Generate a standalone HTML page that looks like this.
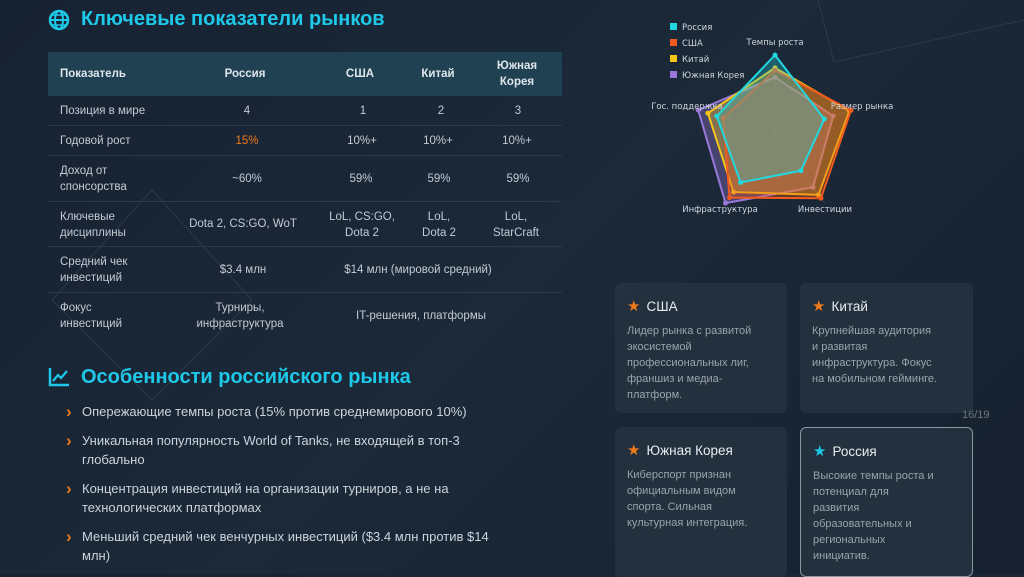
<!DOCTYPE html>
<html><head><meta charset="utf-8">
<style>
*{margin:0;padding:0;box-sizing:border-box}
body{width:1024px;height:574px;overflow:hidden;background:linear-gradient(135deg,#172232 0%,#1b2939 50%,#172130 100%);font-family:"Liberation Sans",sans-serif;color:#c8d0d8;position:relative}
.abs{position:absolute}
h2{position:absolute;color:#1ec8e8;font-size:20px;font-weight:bold}
.c{position:absolute;text-align:center;transform:translateX(-50%);font-size:11.5px;line-height:16px;color:#c3cad2;white-space:nowrap}
.l{position:absolute;font-size:11.5px;line-height:16px;color:#c3cad2;left:60px}
.row{position:absolute;left:48px;width:514px;border-bottom:1px solid #2c3b4b}
.bul{position:absolute;left:68px;font-size:13px;line-height:19px;color:#ccd3da;width:430px}
.bul:before{content:"›";position:absolute;left:-2px;color:#f07a1a;font-weight:bold;font-size:17px}
.bul span{display:block;padding-left:14px}
.card{position:absolute;background:rgba(38,50,64,0.85);border-radius:6px}
.card h3{position:absolute;left:12px;top:14px;font-size:13.5px;font-weight:normal;color:#e8ecf0}
.card h3 b{font-weight:normal;color:#f07a1a;margin-right:6px;font-size:15px}
.card p{position:absolute;left:12px;top:40px;font-size:11px;line-height:16px;color:#9aa4ae}
</style></head><body>
<svg class="abs" style="left:0;top:0" width="1024" height="574">
<polygon points="152,190 252,300 152,400 52,300" fill="none" stroke="#2a3a4a" stroke-width="1"/>
<polyline points="818,0 834,62 1024,20" fill="none" stroke="#2c3a4a" stroke-width="1"/>
</svg>
<svg class="abs" style="left:48px;top:9px" width="22" height="22" viewBox="0 0 22 22">
<circle cx="11" cy="11" r="9" fill="none" stroke="#1ec8e8" stroke-width="2.5"/><ellipse cx="11" cy="11" rx="4" ry="9" fill="none" stroke="#1ec8e8" stroke-width="2"/><line x1="2" y1="11" x2="20" y2="11" stroke="#1ec8e8" stroke-width="2"/><line x1="4" y1="6" x2="18" y2="6" stroke="#1ec8e8" stroke-width="1.5"/><line x1="4" y1="16" x2="18" y2="16" stroke="#1ec8e8" stroke-width="1.5"/></svg>
<h2 style="left:81px;top:8px">Ключевые показатели рынков</h2>
<div class="abs" style="left:48px;top:52px;width:514px;height:44px;background:#1f4152"></div>
<div class="l" style="top:66px;font-weight:bold;color:#dfe6ec">Показатель</div>
<div class="c" style="left:245px;top:66px;font-weight:bold;color:#dfe6ec">Россия</div>
<div class="c" style="left:360px;top:66px;font-weight:bold;color:#dfe6ec">США</div>
<div class="c" style="left:438px;top:66px;font-weight:bold;color:#dfe6ec">Китай</div>
<div class="c" style="left:517px;top:58px;font-weight:bold;color:#dfe6ec">Южная<br>Корея</div>

<div class="row" style="top:96px;height:30px"></div>
<div class="l" style="top:103px">Позиция в мире</div><div class="c" style="left:247px;top:103px">4</div><div class="c" style="left:363px;top:103px">1</div><div class="c" style="left:441px;top:103px">2</div><div class="c" style="left:518px;top:103px">3</div>
<div class="row" style="top:126px;height:30px"></div>
<div class="l" style="top:133px">Годовой рост</div><div class="c" style="left:247px;top:133px;color:#f07a1a">15%</div><div class="c" style="left:362px;top:133px">10%+</div><div class="c" style="left:438px;top:133px">10%+</div><div class="c" style="left:517px;top:133px">10%+</div>
<div class="row" style="top:156px;height:46px"></div>
<div class="l" style="top:163px">Доход от<br>спонсорства</div><div class="c" style="left:247px;top:171px">~60%</div><div class="c" style="left:361px;top:171px">59%</div><div class="c" style="left:439px;top:171px">59%</div><div class="c" style="left:518px;top:171px">59%</div>
<div class="row" style="top:202px;height:45px"></div>
<div class="l" style="top:209px">Ключевые<br>дисциплины</div><div class="c" style="left:243px;top:216px">Dota 2, CS:GO, WoT</div><div class="c" style="left:362px;top:209px">LoL, CS:GO,<br>Dota 2</div><div class="c" style="left:439px;top:209px">LoL,<br>Dota 2</div><div class="c" style="left:516px;top:209px">LoL,<br>StarCraft</div>
<div class="row" style="top:247px;height:46px"></div>
<div class="l" style="top:254px">Средний чек<br>инвестиций</div><div class="c" style="left:243px;top:262px">$3.4 млн</div><div class="c" style="left:418px;top:262px">$14 млн (мировой средний)</div>
<div class="l" style="top:300px">Фокус<br>инвестиций</div><div class="c" style="left:240px;top:300px">Турниры,<br>инфраструктура</div><div class="c" style="left:421px;top:308px">IT-решения, платформы</div>

<svg class="abs" style="left:48px;top:367px" width="22" height="20" viewBox="0 0 22 20">
<polyline points="2,1 2,18 21,18" fill="none" stroke="#1ec8e8" stroke-width="2.5"/><polyline points="5,14 10,8 13,11 19,4" fill="none" stroke="#1ec8e8" stroke-width="2.2"/></svg>
<h2 style="left:81px;top:366px">Особенности российского рынка</h2>
<div class="bul" style="top:402px"><span>Опережающие темпы роста (15% против среднемирового 10%)</span></div>
<div class="bul" style="top:431px"><span>Уникальная популярность World of Tanks, не входящей в топ-3 глобально</span></div>
<div class="bul" style="top:479px"><span>Концентрация инвестиций на организации турниров, а не на технологических платформах</span></div>
<div class="bul" style="top:527px"><span>Меньший средний чек венчурных инвестиций ($3.4 млн против $14 млн)</span></div>

<svg id="radar" class="abs" style="left:640px;top:10px" width="270" height="210"></svg>

<div class="card" style="left:615px;top:283px;width:172px;height:130px"><h3><b>★</b>США</h3><p>Лидер рынка с развитой<br>экосистемой<br>профессиональных лиг,<br>франшиз и медиа-<br>платформ.</p></div>
<div class="card" style="left:800px;top:283px;width:173px;height:130px"><h3><b>★</b>Китай</h3><p>Крупнейшая аудитория<br>и развитая<br>инфраструктура. Фокус<br>на мобильном гейминге.</p></div>
<div class="abs" style="left:962px;top:409px;font-size:11px;color:#6b7682">16/19</div>
<div class="card" style="left:615px;top:427px;width:172px;height:150px"><h3><b>★</b>Южная Корея</h3><p>Киберспорт признан<br>официальным видом<br>спорта. Сильная<br>культурная интеграция.</p></div>
<div class="card" style="left:800px;top:427px;width:173px;height:150px;border:1px solid #8a96a2"><h3><b style="color:#1ec8e8">★</b>Россия</h3><p>Высокие темпы роста и<br>потенциал для<br>развития<br>образовательных и<br>региональных<br>инициатив.</p></div>

<script>
const axes=["Темпы роста","Размер рынка","Инвестиции","Инфраструктура","Гос. поддержка"];
const seriesNames=["Россия","США","Китай","Южная Корея"];
const russia=[94,61,52,69,72];
const usa=[76,94,92,91,64];
const china=[79,92,87,83,83];
const korea=[68,72,76,99,95];
const colors=["#22d8e0","#f05a1e","#f5c518","#9a78d8"];
const svg=document.getElementById('radar');
const NS="http://www.w3.org/2000/svg";
const cx=135,cy=125,R=85,maxV=100;
function pt(i,v){const a=-Math.PI/2+i*2*Math.PI/5;const r=v/maxV*R;return [cx+r*Math.cos(a),cy+r*Math.sin(a)];}
function mk(t,at){const e=document.createElementNS(NS,t);for(const k in at)e.setAttribute(k,at[k]);svg.appendChild(e);return e;}
for(let i=0;i<5;i++){const p=pt(i,100);const ln=mk('line',{x1:cx,y1:cy,x2:p[0],y2:p[1],stroke:'#3a4a5a','stroke-width':0.6});

}
const data=[russia,usa,china,korea];
const fills=["rgba(34,216,224,0.3)","rgba(240,90,30,0.35)","rgba(245,197,24,0.35)","rgba(154,120,216,0.35)"];
const order=[3,2,1,0];
order.forEach(s=>{const pts=data[s].map((v,i)=>pt(i,v));
const pg=mk('polygon',{points:pts.map(p=>p.join(',')).join(' '),fill:fills[s],stroke:colors[s],'stroke-width':2});


pts.forEach(p=>{const c=mk('circle',{cx:p[0],cy:p[1],r:2.5,fill:colors[s]});

});});
const lp=[[135,35,'middle'],[222,99,'middle'],[185,202,'middle'],[80,202,'middle'],[47,99,'middle']];
axes.forEach((a,i)=>{const t=mk('text',{x:lp[i][0],y:lp[i][1],'text-anchor':lp[i][2],'font-size':8.5,fill:'#d0d6dc','font-family':'DejaVu Sans,sans-serif'});t.textContent=a;

});
seriesNames.forEach((n,i)=>{const r=mk('rect',{x:30,y:13+i*16,width:7,height:7,fill:colors[i]});


const t=mk('text',{x:42,y:20+i*16,'font-size':8.5,fill:'#d0d6dc','font-family':'DejaVu Sans,sans-serif'});t.textContent=n;

});
</script>
</body></html>
